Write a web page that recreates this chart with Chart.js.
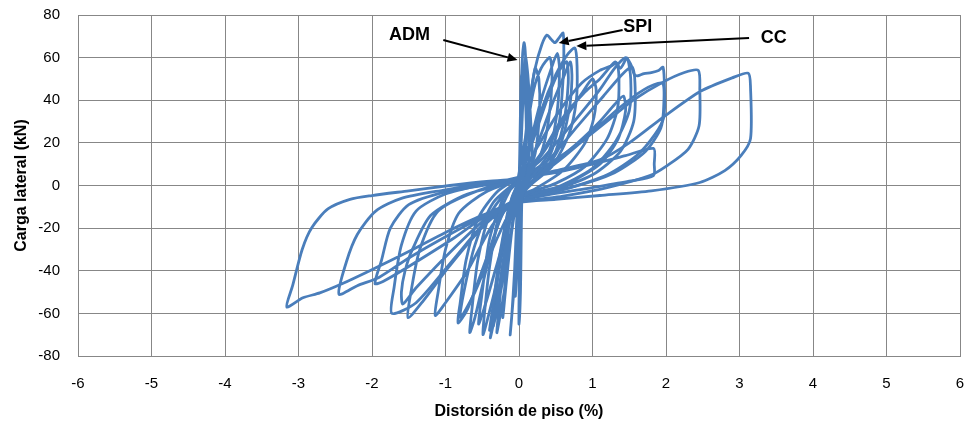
<!DOCTYPE html>
<html>
<head>
<meta charset="utf-8">
<script src="https://cdn.jsdelivr.net/npm/chart.js@4/dist/chart.umd.min.js"></script>
<style>
  html, body { margin: 0; padding: 0; background: #fff; }
  #wrap { width: 966px; height: 422px; }
</style>
</head>
<body>
<div id="wrap"><canvas id="chart" width="966" height="422"></canvas></div>
<script>
// ── Data (drift %, load kN) ───────────────────────────────────────────────
const xTicks = [-6, -5, -4, -3, -2, -1, 0, 1, 2, 3, 4, 5, 6];
const yTicks = [-80, -60, -40, -20, 0, 20, 40, 60, 80];

// ADM: stiff loops packed around zero drift
const admPath = [
  [0,0],[0.01,15],[0.02,35],[0.03,50],[0.05,55],[0.08,45],[0.1,25],[0.08,8],[0.02,-3],[-0.01,-20],[-0.03,-40],[-0.05,-52],[-0.03,-42],[-0.01,-20],[0,-3],
  [0.02,20],[0.03,45],[0.05,62],[0.07,67],[0.09,60],[0.11,40],[0.14,20],[0.12,6],[0.04,-4],[-0.02,-20],[-0.06,-45],[-0.12,-70],[-0.1,-62],[-0.06,-40],[-0.03,-15],[0,1],
  [0.03,20],[0.06,45],[0.09,60],[0.12,52],[0.16,30],[0.18,12],[0.1,2],[0.03,-8],[0.01,-35],[0,-55],[0,-65],[0.02,-50],[0.03,-25],[0.04,-5],
  [0.08,20],[0.15,40],[0.22,55],[0.27,50],[0.28,35],[0.22,15],[0.1,4],[0,-2],[-0.08,-15],[-0.18,-45],[-0.3,-69],[-0.28,-60],[-0.22,-40],[-0.12,-15],[-0.02,2],
  [0.1,25],[0.2,45],[0.3,55],[0.42,60],[0.45,50],[0.4,30],[0.3,15],[0.12,4],[0,-4],[-0.1,-20],[-0.25,-50],[-0.35,-66],[-0.3,-55],[-0.2,-32],[-0.08,-8],[0,2],
  [0.15,20],[0.3,40],[0.45,56],[0.52,62],[0.55,55],[0.52,35],[0.4,15],[0.15,3],[0,-4],[-0.15,-30],[-0.3,-55],[-0.4,-68],[-0.36,-58],[-0.25,-30],[-0.1,-6],[0,2],
  [0.2,22],[0.4,42],[0.55,54],[0.65,58],[0.67,48],[0.6,28],[0.45,12],[0.2,2],[0,-4],[-0.12,-25],[-0.2,-50],[-0.22,-62],[-0.18,-48],[-0.1,-22],[0,1]
];

// SPI: up to the widest loops (±3 %)
const spiPath = [
  [0,0],[0.08,15],[0.15,40],[0.22,55],[0.31,66],[0.38,70.6],[0.44,68.5],[0.49,67],[0.55,69.5],[0.6,71.5],[0.61,62],[0.6,50],[0.55,30],[0.42,14],[0.2,3],[0,-3],[-0.15,-18],[-0.3,-45],[-0.43,-63],[-0.49,-70],[-0.47,-60],[-0.4,-38],[-0.28,-15],[-0.12,-2],[0.02,4],
  [0.25,18],[0.55,35],[0.85,48],[1.1,54],[1.25,56],[1.33,57.4],[1.36,50],[1.34,36],[1.2,22],[0.9,9],[0.5,1],[0.1,-4],[-0.2,-12],[-0.45,-35],[-0.7,-58],[-0.83,-64.5],[-0.8,-55],[-0.72,-35],[-0.55,-15],[-0.3,-3],[0,4],
  [0.3,12],[0.7,28],[1.1,45],[1.3,55],[1.45,60],[1.52,57],[1.57,52],[1.62,51.5],[1.7,52.5],[1.8,53],[1.9,54],[1.96,55.5],[1.98,45],[1.97,32],[1.85,24],[1.6,14],[1.2,5],[0.6,-2],[0,-7],[-0.4,-15],[-0.9,-35],[-1.4,-55],[-1.73,-60],[-1.7,-48],[-1.6,-28],[-1.4,-12],[-1,-4],[-0.4,1],[0,4],
  [0.4,10],[0.9,22],[1.3,33],[1.55,40],[1.96,48.5],[2.25,53],[2.44,54],[2.46,45],[2.45,28],[2.3,17],[2,9],[1.78,4.7],[1.2,-1],[0.6,-5],[0,-8],[-0.5,-15],[-1,-24],[-1.5,-34],[-1.9,-43],[-2.2,-47],[-2.45,-51],[-2.35,-36],[-2.2,-23],[-1.95,-12],[-1.6,-6],[-1,-2],[-0.4,1.5],[0,3],
  [0.5,7],[1.1,12],[1.5,20],[1.96,32],[2.46,44],[2.9,50.5],[3.12,52.7],[3.15,46],[3.15,22],[3.02,14],[2.8,7],[2.46,1.4],[1.8,-2.5],[1.1,-4.7],[0.5,-6.5],[0,-8],[-0.5,-14],[-1,-22],[-1.5,-31],[-2.03,-40],[-2.4,-46],[-2.71,-50.4],[-2.94,-52.7],[-3.16,-57],[-3.08,-47],[-2.95,-30],[-2.82,-19.8],[-2.6,-11],[-2.3,-6.5],[-2,-4.7],[-1.5,-2.5],[-0.94,0],[-0.4,2],[0,3]
];

// CC: intermediate loops (±2 %)
const ccPath = [
  [0,0],[0.1,12],[0.3,35],[0.5,52],[0.65,61],[0.76,64.5],[0.79,56],[0.78,40],[0.68,24],[0.45,9],[0.15,0],[-0.08,-10],[-0.22,-38],[-0.32,-60],[-0.39,-71.5],[-0.35,-62],[-0.27,-38],[-0.15,-12],[0,2],
  [0.2,15],[0.45,38],[0.62,52],[0.7,58],[0.72,50],[0.68,35],[0.55,18],[0.3,5],[0,-3],[-0.2,-25],[-0.45,-55],[-0.55,-65],[-0.5,-50],[-0.4,-25],[-0.2,-5],[0,2],
  [0.3,14],[0.6,30],[0.85,43],[1,50],[1.05,45],[1.02,32],[0.9,20],[0.6,7],[0.2,-2],[0,-5],[-0.3,-25],[-0.6,-50],[-0.8,-62],[-0.75,-50],[-0.6,-28],[-0.35,-8],[0,3],
  [0.3,15],[0.6,32],[0.9,44],[1.1,50],[1.2,54],[1.31,58],[1.38,55],[1.47,59.8],[1.52,50],[1.5,35],[1.32,21],[1,8],[0.5,-1],[0,-5],[-0.25,-15],[-0.45,-40],[-0.6,-62],[-0.67,-69],[-0.64,-58],[-0.56,-35],[-0.4,-14],[-0.15,-2],[0.05,4],
  [0.4,12],[0.8,28],[1.15,42],[1.4,52],[1.54,55.6],[1.58,46],[1.56,30],[1.38,16],[1,5],[0.4,-3],[0,-6],[-0.35,-18],[-0.7,-40],[-1,-55],[-1.14,-61],[-1.1,-50],[-1,-30],[-0.82,-13],[-0.45,-3],[0.1,4],
  [0.4,8],[0.9,22],[1.35,36],[1.7,45],[1.95,48],[1.97,38],[1.93,27],[1.72,16],[1.3,6],[0.7,-1],[0,-6],[-0.45,-18],[-0.95,-38],[-1.3,-54],[-1.51,-62],[-1.47,-50],[-1.35,-30],[-1.1,-12],[-0.6,-3],[0.1,4],
  [0.5,6],[1,10],[1.45,14],[1.83,17.4],[1.84,10],[1.83,4.7],[1.5,2],[1,-1],[0.3,-5],[-0.3,-11],[-0.9,-25],[-1.5,-38],[-1.85,-45],[-1.96,-46],[-1.87,-35],[-1.75,-20],[-1.5,-9],[-1,-3],[-0.4,0.5],[0,3],
  [0.4,9],[0.8,20],[1.1,30],[1.3,38],[1.42,42],[1.45,35],[1.35,22],[1.1,10],[0.6,0],[0,-6],[-0.4,-14],[-0.9,-30],[-1.4,-48],[-1.58,-55.6],[-1.6,-50],[-1.55,-40],[-1.45,-30],[-1.2,-14],[-0.7,-4],[0,2]
];

// Callout labels with their arrows (text position, arrow tail, arrow head)
const calloutNames = ['ADM', 'SPI', 'CC'];
const calloutTextAt = [[-1.49, 70.6], [1.615, 74.4], [3.467, 69.2]];
const calloutTail   = [[-1.03, 68.3], [1.41, 73.0], [3.13, 69.2]];
const calloutHead   = [[-0.02, 58.9], [0.54, 66.9], [0.78, 65.4]];

// ── Styling ───────────────────────────────────────────────────────────────
const LINE = '#4a7ebb';
const GRID = '#878787';
const FONT = '"Liberation Sans", Arial, sans-serif';
const toPts = path => path.map(([x, y]) => ({ x, y }));

const series = (label, path) => ({
  label,
  data: toPts(path),
  showLine: true,
  borderColor: LINE,
  borderWidth: 2.8,
  pointRadius: 0,
  tension: 0.25,
  fill: false,
});

// no extra room for overhanging tick labels: plot box is fixed by layout padding
const noOverhang = s => { s.paddingLeft = 0; s.paddingRight = 0; s.paddingTop = 0; s.paddingBottom = 0; };

// arrows + labels drawn on top of the curves
const callouts = {
  id: 'callouts',
  afterDatasetsDraw(chart) {
    const { ctx, scales: { x, y } } = chart;
    ctx.save();
    ctx.strokeStyle = '#000';
    ctx.fillStyle = '#000';
    ctx.lineWidth = 2;
    calloutNames.forEach((name, i) => {
      const x0 = x.getPixelForValue(calloutTail[i][0]), y0 = y.getPixelForValue(calloutTail[i][1]);
      const x1 = x.getPixelForValue(calloutHead[i][0]), y1 = y.getPixelForValue(calloutHead[i][1]);
      const ang = Math.atan2(y1 - y0, x1 - x0);
      const hl = 10, hw = 4.5;
      const bx = x1 - hl * Math.cos(ang), by = y1 - hl * Math.sin(ang);
      ctx.beginPath();
      ctx.moveTo(x0, y0);
      ctx.lineTo(bx, by);
      ctx.stroke();
      ctx.beginPath();
      ctx.moveTo(x1, y1);
      ctx.lineTo(bx - hw * Math.sin(ang), by + hw * Math.cos(ang));
      ctx.lineTo(bx + hw * Math.sin(ang), by - hw * Math.cos(ang));
      ctx.closePath();
      ctx.fill();

      ctx.font = 'bold 18px ' + FONT;
      ctx.textAlign = 'center';
      ctx.textBaseline = 'middle';
      ctx.fillText(name, x.getPixelForValue(calloutTextAt[i][0]), y.getPixelForValue(calloutTextAt[i][1]));
    });
    ctx.restore();
  },
};

new Chart(document.getElementById('chart'), {
  type: 'scatter',
  data: {
    datasets: [
      series('ADM', admPath),
      series('SPI', spiPath),
      series('CC', ccPath),
    ],
  },
  options: {
    responsive: false,
    animation: false,
    layout: { padding: { top: 15, right: 6, left: 0, bottom: 0 } },
    plugins: { legend: { display: false }, tooltip: { enabled: false } },
    scales: {
      x: {
        type: 'linear',
        min: xTicks[0],
        max: xTicks[xTicks.length - 1],
        afterBuildTicks: s => { s.ticks = xTicks.map(v => ({ value: v })); },
        afterFit: s => { s.height = 66; noOverhang(s); },
        grid: { color: GRID, lineWidth: 1, drawTicks: false },
        border: { color: GRID, width: 1 },
        ticks: {
          padding: 19,
          color: '#000',
          font: { family: FONT, size: 15 },
        },
        title: {
          display: true,
          text: 'Distorsión de piso (%)',
          color: '#000',
          font: { family: FONT, size: 16, weight: 'bold' },
          padding: { top: 0, bottom: 1 },
        },
      },
      y: {
        type: 'linear',
        min: yTicks[0],
        max: yTicks[yTicks.length - 1],
        afterBuildTicks: s => { s.ticks = yTicks.map(v => ({ value: v })); },
        afterFit: s => { s.width = 78; noOverhang(s); },
        grid: { color: GRID, lineWidth: 1, drawTicks: false },
        border: { color: GRID, width: 1 },
        ticks: {
          padding: 18,
          color: '#000',
          font: { family: FONT, size: 15 },
        },
        title: {
          display: true,
          text: 'Carga lateral (kN)',
          color: '#000',
          font: { family: FONT, size: 16, weight: 'bold' },
          padding: { top: 12, bottom: 0 },
        },
      },
    },
  },
  plugins: [callouts],
});
</script>
</body>
</html>
